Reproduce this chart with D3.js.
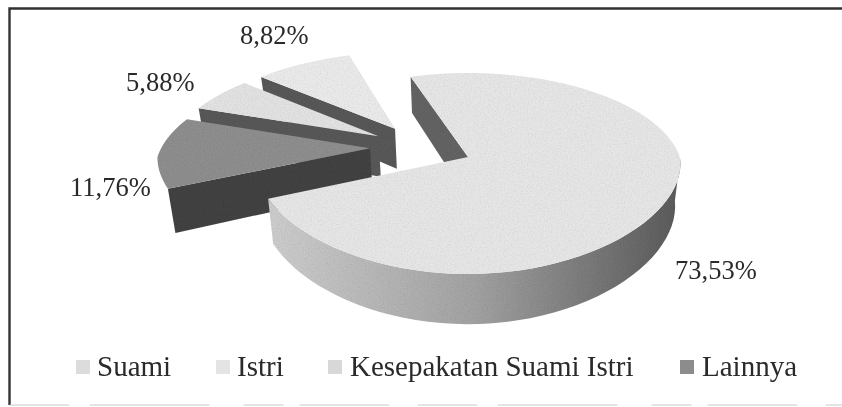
<!DOCTYPE html>
<html><head><meta charset="utf-8">
<script src="https://cdn.jsdelivr.net/npm/d3@7/dist/d3.min.js"></script>
<style>html,body{margin:0;padding:0;background:#fff}svg{display:block}</style>
</head><body><svg id="c" width="842" height="407"></svg>
<script>
const categories = ["Suami", "Istri", "Kesepakatan Suami Istri", "Lainnya"];
const values = [73.53, 8.82, 5.88, 11.76];
const labels = ["73,53%", "8,82%", "5,88%", "11,76%"];
const topColors = ["#e6e6e6", "#eaeaea", "#e2e2e2", "#8e8e8e"];
const cutColors = ["#636363", "#585858", "#585858", "#434343"];
const wallStops = ["#cdcdcd", "#a2a2a2", "#5a5a5a"];
const legendSwatches = ["#dcdcdc", "#e4e4e4", "#d8d8d8", "#8c8c8c"];

const W = 842, H = 407;
const svg = d3.select("#c");
const rad = Math.PI / 180;
const R = 212, squash = 0.461, persp = 0.164, depth = 42, explode = 52, taper = 0.025, frontX = 0.4;
const apex = [468, 157];

const pie = d3.pie().sort(null).startAngle(246.5 * rad).endAngle((246.5 - 360) * rad);
const arcs = pie(values);
const mid = d => (d.startAngle + d.endAngle) / 2;
const main = arcs[0];
const dir = a => [Math.sin(a), -Math.cos(a)];
const off = d => { const m = dir(mid(main)), n = dir(mid(d)); return [explode * (n[0] - m[0]), explode * (n[1] - m[1])]; };
function project(u, v, z) {
  const f = 1 / (1 - persp * v / R);
  const fx = (v < 0 ? f : 1 + (f - 1) * frontX) * (1 - taper * z / depth);
  return [apex[0] + u * fx, apex[1] + (v * squash + z) * f];
}
const line = d3.line();
function rim(d, z) {
  const n = 80, o = off(d);
  return d3.range(n + 1).map(i => {
    const a = d.startAngle + (d.endAngle - d.startAngle) * i / n;
    return project(o[0] + R * Math.sin(a), o[1] - R * Math.cos(a), z);
  });
}
function tip(d, z) { const o = off(d); return project(o[0], o[1], z); }
function edgeFace(d, a) {
  const o = off(d);
  const p = z => project(o[0] + R * Math.sin(a), o[1] - R * Math.cos(a), z);
  return [tip(d, 0), p(0), p(depth), tip(d, depth)];
}

const defs = svg.append("defs");
const soft = defs.append("filter").attr("id", "soft").attr("x", "-5%").attr("y", "-5%").attr("width", "110%").attr("height", "110%");
soft.append("feGaussianBlur").attr("stdDeviation", 0.55);
const grain = defs.append("filter").attr("id", "grain").attr("filterUnits", "userSpaceOnUse")
  .attr("x", 0).attr("y", 0).attr("width", W).attr("height", H);
grain.append("feTurbulence").attr("type", "fractalNoise").attr("baseFrequency", 0.7).attr("numOctaves", 2).attr("seed", 4).attr("result", "n");
grain.append("feColorMatrix").attr("in", "n").attr("type", "matrix")
  .attr("values", "0 0 0 0 0  0 0 0 0 0  0 0 0 0 0  0.3 0 0 0 -0.12").attr("result", "a");
grain.append("feGaussianBlur").attr("in", "a").attr("stdDeviation", 0.5).attr("result", "speckSoft");
grain.append("feComposite").attr("in", "speckSoft").attr("in2", "SourceAlpha").attr("operator", "in").attr("result", "clip");
const mg = grain.append("feMerge");
mg.append("feMergeNode").attr("in", "SourceGraphic");
mg.append("feMergeNode").attr("in", "clip");
const grad = defs.append("linearGradient").attr("id", "wall0").attr("gradientUnits", "userSpaceOnUse")
  .attr("x1", 268).attr("x2", 680).attr("y1", 0).attr("y2", 0);
grad.selectAll("stop").data(wallStops).join("stop")
  .attr("offset", (d, i) => i / 2).attr("stop-color", d => d);

const frame = svg.append("g").attr("fill", "none").attr("filter", "url(#soft)");
frame.append("path").attr("d", "M9.5,405V8.5H842").attr("stroke", "#333").attr("stroke-width", 2.4);
frame.append("path").attr("d", "M9.5,405H842").attr("stroke", "#c4c4c4").attr("stroke-width", 0.9).attr("stroke-dasharray", "60 20 120 34 40 16 90 28");

const g = svg.append("g").attr("filter", "url(#soft)").append("g").attr("filter", "url(#grain)");
[1, 2, 3, 0].forEach(i => {
  const d = arcs[i];
  const sg = g.append("g");
  sg.append("path").attr("d", line(edgeFace(d, d.endAngle)) + "Z").attr("fill", cutColors[i]);
  if (i === 0) {
    const top = rim(d, 0), bot = rim(d, depth);
    const keep = k => Math.cos(d.startAngle + (d.endAngle - d.startAngle) * k / 80) < 0.02;
    const tv = top.filter((p, k) => keep(k)), bv = bot.filter((p, k) => keep(k));
    sg.append("path").attr("d", line(tv.concat(bv.reverse())) + "Z").attr("fill", "url(#wall0)");
  }
  sg.append("path").attr("d", line([tip(d, 0)].concat(rim(d, 0))) + "Z").attr("fill", topColors[i]);
});

const text = svg.append("g").attr("font-family", "'Liberation Serif', serif").attr("fill", "#2a2a2a").attr("filter", "url(#soft)");
const labelSpots = [[675, 279], [240, 44], [126, 91], [70, 196]];
text.selectAll("text.lab").data(labels).join("text").attr("class", "lab")
  .attr("x", (d, i) => labelSpots[i][0]).attr("y", (d, i) => labelSpots[i][1])
  .attr("font-size", 26.5).text(d => d);

const legendX = [97, 237, 350, 702];
const swatchX = [76, 216, 328, 680];
text.selectAll("text.leg").data(categories).join("text").attr("class", "leg")
  .attr("x", (d, i) => legendX[i]).attr("y", 375.5).attr("font-size", 29).text(d => d);
text.selectAll("rect.leg").data(categories).join("rect").attr("class", "leg")
  .attr("x", (d, i) => swatchX[i]).attr("y", 360).attr("width", 14).attr("height", 14)
  .attr("fill", (d, i) => legendSwatches[i]);
</script></body></html>
